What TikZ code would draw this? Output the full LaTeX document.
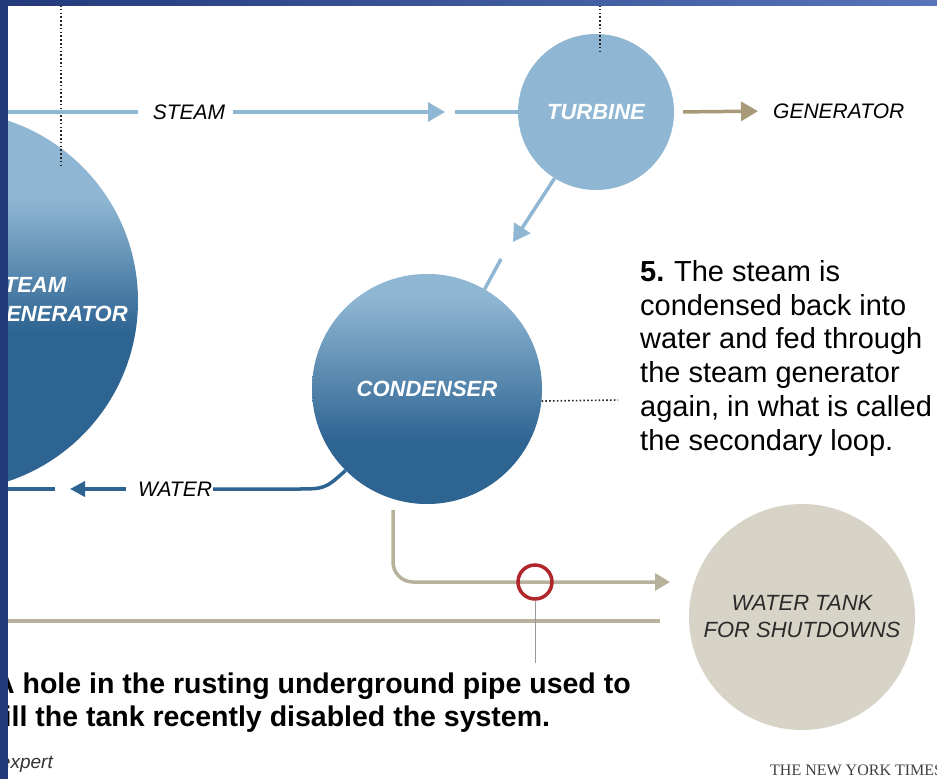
\documentclass[tikz,border=0pt]{standalone}
\usepackage{fontspec}
\setmainfont{Liberation Sans}
\newfontfamily\nytfont{Liberation Serif}
\usetikzlibrary{arrows.meta}
\definecolor{lt}{HTML}{8FB7D3}
\definecolor{dk}{HTML}{2E6492}
\definecolor{mid}{HTML}{4F7FA8}
\definecolor{tanline}{HTML}{B8B19C}
\definecolor{tanarrow}{HTML}{A89A78}
\definecolor{tankfill}{HTML}{D7D3C7}
\definecolor{navy}{HTML}{23397A}
\definecolor{navylt}{HTML}{5675BA}
\definecolor{holered}{HTML}{B0262A}
\definecolor{tanktext}{HTML}{2B2B2B}
\pgfdeclareverticalshading{sgshade}{100bp}{color(0bp)=(dk); color(46bp)=(dk); color(63.5bp)=(lt); color(100bp)=(lt)}
\pgfdeclareverticalshading{cdshade}{100bp}{color(0bp)=(dk); color(38.5bp)=(dk); color(70bp)=(lt); color(100bp)=(lt)}
\tikzset{
  lbl/.style={font=\fontsize{21}{25}\selectfont\itshape, inner sep=0pt},
  wlbl/.style={font=\fontsize{22}{29}\selectfont\bfseries\itshape, text=white},
  steamline/.style={draw=lt, line width=3.5pt},
  waterline/.style={draw=dk, line width=3.5pt},
  pipe/.style={draw=tanline, line width=3.5pt},
  endarrow/.style={-{Triangle[length=17pt,width=19pt]}},
  smallarrow/.style={-{Triangle[length=15pt,width=15pt]}},
  dots/.style={draw=black!85, line width=1.6pt, dash pattern=on 1.6pt off 2.2pt},
}
\begin{document}
\begin{tikzpicture}[x=1pt, y=-1pt]
\useasboundingbox (0,0) rectangle (937,779);
\fill[white] (0,0) rectangle (937,779);

% steam generator
\node[circle, minimum size=380pt, inner sep=0pt, shading=sgshade] (sg) at (-52,301) {};
\node[wlbl, anchor=north west, align=left, inner sep=0pt] (sgl) at (-11,277) {STEAM\\GENERATOR};
\coordinate (d1) at (61,5);
\coordinate (d2) at (61,168);
\draw[dots] (d1) -- (d2);

% turbine
\node[circle, minimum size=156pt, inner sep=0pt, fill=lt, wlbl] (tur) at (596,112) {TURBINE};
\coordinate (d3) at (600,5);
\coordinate (d4) at (600,52);
\draw[dots] (d3) -- (d4);

% steam line
\node[lbl] (st) at (189,112) {STEAM};
\coordinate (s0) at (0,112);
\coordinate (sa) at (445,112);
\coordinate (sb) at (455,112);
\draw[steamline, shorten >=15pt] (s0) -- (st.west);
\draw[steamline, endarrow, shorten <=8pt] (st.east) -- (sa);
\draw[steamline] (sb) -- (tur.west);

% generator
\node[lbl, anchor=west] (gen) at (773,111) {GENERATOR};
\draw[draw=tanarrow, line width=3.5pt, endarrow, shorten <=9pt, shorten >=15pt] (tur.east) -- (gen.west);

% condenser
\fill[mid] (427,389) circle[radius=114.6pt];
\node[circle, minimum size=230pt, inner sep=0pt, shading=cdshade, wlbl] (cond) at (427,389) {CONDENSER};
\coordinate (tc1) at (513,242);
\coordinate (tc2) at (501,259);
\draw[steamline, endarrow] (tur.238) -- (tc1);
\draw[steamline] (tc2) -- (cond.60);
\coordinate (dc) at (618,400);
\draw[dots] (cond.-6) -- (dc);

% water line
\node[lbl] (wl) at (175,489) {WATER};
\coordinate (w1) at (295,489);
\coordinate (wa) at (70,489);
\coordinate (wb) at (55,489);
\coordinate (w0) at (0,489);
\draw[waterline] (cond.225) .. controls (325,489) .. (w1) -- ([xshift=1pt]wl.east);
\draw[waterline, smallarrow] ([xshift=-12pt]wl.west) -- (wa);
\draw[waterline] (wb) -- (w0);

% paragraph 5
\node[anchor=north west, align=left, inner sep=0pt, font=\fontsize{29}{33.8}\selectfont] (p5) at (640,260)
  {\textbf{5.}\,\,The steam is\\condensed back into\\water and fed through\\the steam generator\\again, in what is called\\the secondary loop.};

% pipe to tank
\coordinate (p0) at (393,510);
\coordinate (pa) at (670,582);
\draw[pipe, rounded corners=20pt, -{Triangle[length=15pt,width=17pt]}] (p0) |- (pa);
\coordinate (g0) at (0,621);
\coordinate (g1) at (660,621);
\draw[pipe] (g0) -- (g1);
\node[circle, draw=holered, line width=3.5pt, minimum size=34pt, inner sep=0pt] (hole) at (535,582) {};
\coordinate (hl) at (535,663);
\draw[black!40, line width=1pt] (hole.south) -- (hl);

% tank
\node[circle, minimum size=226pt, inner sep=0pt, fill=tankfill, align=center, text=tanktext,
  font=\fontsize{22}{27}\selectfont\itshape] (tank) at (802,617) {WATER TANK\\FOR SHUTDOWNS};

% bottom text
\node[anchor=north west, align=left, inner sep=0pt, font=\fontsize{28.5}{33}\selectfont\bfseries] (p6) at (-6,673)
  {A hole in the rusting underground pipe used to\\fill the tank recently disabled the system.};
\node[anchor=base east, inner sep=0pt, font=\fontsize{19}{22}\selectfont\itshape, text=black!80] (src) at (53,768) {expert};
\node[anchor=base west, inner sep=0pt, font=\nytfont\fontsize{16}{19}\selectfont, text=black!75] (nyt) at (770,775) {THE NEW YORK TIMES};

% frame
\fill[navy] (0,0) rectangle (8,779);
\shade[left color=navy, right color=navylt] (0,0) rectangle (937,5);
\end{tikzpicture}
\end{document}
